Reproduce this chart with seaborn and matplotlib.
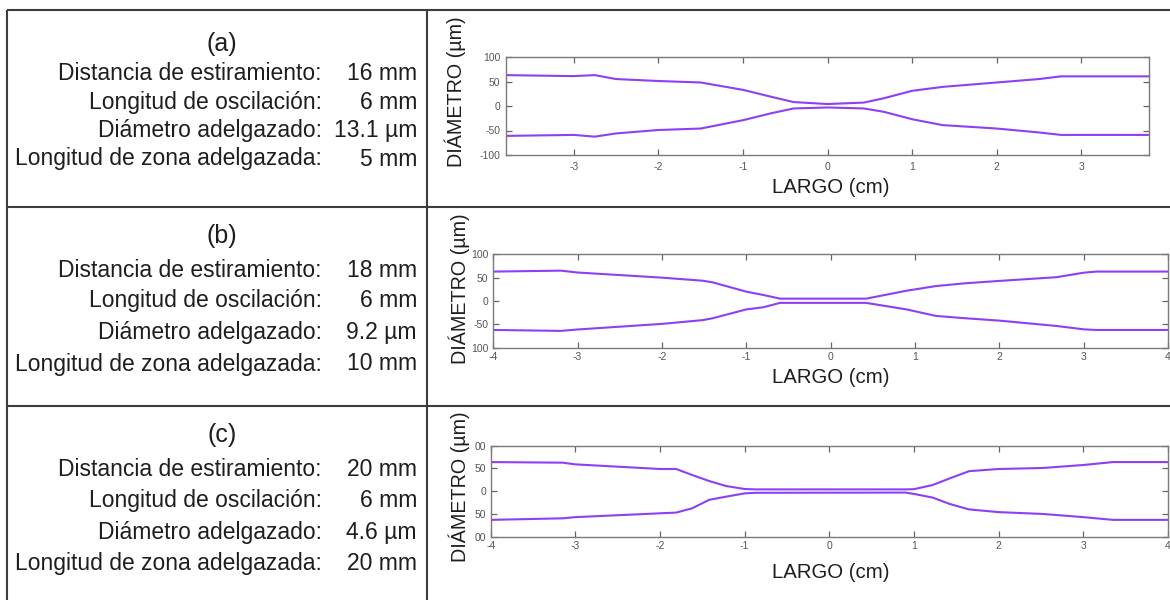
import numpy as np
import pandas as pd
import matplotlib
matplotlib.use("Agg")
import matplotlib.pyplot as plt
import seaborn as sns

# ---------------- data ----------------
panel_titles = ["(a)", "(b)", "(c)"]
param_names = ["Distancia de estiramiento:", "Longitud de oscilación:",
               "Diámetro adelgazado:", "Longitud de zona adelgazada:"]
values_a = ["16 mm", "6 mm", "13.1 µm", "5 mm"]
values_b = ["18 mm", "6 mm", "9.2 µm", "10 mm"]
values_c = ["20 mm", "6 mm", "4.6 µm", "20 mm"]

# profile (a)
x_a = [-3.8, -3.0, -2.75, -2.5, -2.0, -1.5, -1.0, -0.67, -0.4, 0.0, 0.43, 0.67,
       1.0, 1.36, 2.0, 2.5, 2.76, 3.8]
up_a = [63, 61, 63, 55, 51, 48, 33, 19, 8, 4, 7, 16, 31, 39, 48, 55, 60.5, 60.5]
low_a = [-61, -59, -62.5, -56, -49, -46, -29, -15, -5, -3, -5, -12, -27, -39,
         -46, -54, -59, -59]

# profile (b)
x_b = [-4, -3.2, -3, -2, -1.52, -1.4, -1, -0.8, -0.6, 0.42, 0.9, 1.25, 1.6, 2,
       2.68, 3, 3.15, 4]
up_b = [63, 65, 61, 50, 43.5, 40, 20, 13, 5, 5, 22, 32, 38, 43, 51, 60.6, 63, 63]
low_b = [-62, -64, -61, -49, -41, -37, -18, -13.5, -4, -4, -18, -32, -37, -42,
         -53.5, -60.7, -62, -62]

# profile (c)
x_c = [-4, -3.15, -3, -2, -1.81, -1.62, -1.42, -1.22, -1.0, -0.87, 0.9, 1.0,
       1.22, 1.42, 1.65, 2.0, 2.52, 3.0, 3.35, 4]
up_c = [64, 62.7, 59, 48.8, 48.8, 35.6, 22.4, 11.4, 4.8, 4, 4, 4.5, 13.6, 28,
        44, 48.8, 51, 57.6, 64, 64]
low_c = [-63, -59.6, -57, -48.6, -47, -37.6, -19, -12, -4.8, -3.5, -3, -6, -14,
         -28, -40, -46, -50, -57, -63, -63]

xticks_a = [-3, -2, -1, 0, 1, 2, 3]
xticks_bc = [-4, -3, -2, -1, 0, 1, 2, 3, 4]
yticks = [-100, -50, 0, 50, 100]
ylabels_a = ["-100", "-50", "0", "50", "100"]
ylabels_b = ["100", "-50", "0", "50", "100"]
ylabels_c = ["00", "50", "0", "50", "00"]

xlabel = "LARGO (cm)"
ylabel = "DIÁMETRO (µm)"

# ---------------- style ----------------
sns.set_style("white")
plt.rcParams["font.family"] = ["Liberation Sans", "DejaVu Sans"]

W, H = 1170, 600
fig = plt.figure(figsize=(W / 100, H / 100), dpi=100)
fig.patch.set_facecolor("white")

bg = fig.add_axes([0, 0, 1, 1])
bg.set_xlim(0, W)
bg.set_ylim(H, 0)
bg.axis("off")

tbl_col = "#3c3c3c"
tlw = 1.5
bg.plot([7, W], [9.5, 9.5], color=tbl_col, lw=tlw, solid_capstyle="butt")
bg.plot([7, W], [207.3, 207.3], color=tbl_col, lw=tlw, solid_capstyle="butt")
bg.plot([7, W], [405.7, 405.7], color=tbl_col, lw=tlw, solid_capstyle="butt")
bg.plot([7, 7], [9.5, H], color=tbl_col, lw=tlw, solid_capstyle="butt")
bg.plot([427, 427], [9.5, H], color=tbl_col, lw=tlw, solid_capstyle="butt")

txt_col = "#1e1e1e"
fs_txt = 16.5

rows = [
    dict(title_y=51, base=[80.5, 109, 136.7, 165.5], vals=values_a),
    dict(title_y=243, base=[277, 307.3, 339, 370.5], vals=values_b),
    dict(title_y=442, base=[476.5, 507, 538.5, 570], vals=values_c),
]
for title, r in zip(panel_titles, rows):
    bg.text(222, r["title_y"], title, ha="center", va="baseline",
            fontsize=18, color=txt_col)
    for name, val, yb in zip(param_names, r["vals"], r["base"]):
        bg.text(322, yb, name, ha="right", va="baseline", fontsize=fs_txt,
                color=txt_col)
        bg.text(417, yb, val, ha="right", va="baseline", fontsize=fs_txt,
                color=txt_col)


def px_rect(l, r, t, b):
    return [l / W, 1 - b / H, (r - l) / W, (b - t) / H]


line_col = "#8C3FF6"
panels = [
    dict(rect=px_rect(506, 1149, 57, 155), x=x_a, up=up_a, low=low_a,
         xlim=(-3.8, 3.8), xt=xticks_a, yl=ylabels_a, ylab=(-0.0793, 0.643),
         xlab=(0.5054, -0.332), ypad=4.0, xpad=4.8),
    dict(rect=px_rect(493.3, 1168, 254.3, 347.7), x=x_b, up=up_b, low=low_b,
         xlim=(-4, 4), xt=xticks_bc, yl=ylabels_b, ylab=(-0.0508, 0.628),
         xlab=(0.5005, -0.319), ypad=3.4, xpad=3.2),
    dict(rect=px_rect(490.7, 1168, 445.7, 536.7), x=x_c, up=up_c, low=low_c,
         xlim=(-4, 4), xt=xticks_bc, yl=ylabels_c, ylab=(-0.0468, 0.552),
         xlab=(0.5024, -0.393), ypad=3.4, xpad=3.2),
]

for p in panels:
    ax = fig.add_axes(p["rect"])
    df = pd.DataFrame({"x": p["x"], "up": p["up"], "low": p["low"]})
    sns.lineplot(data=df, x="x", y="up", ax=ax, color=line_col, lw=1.5,
                 sort=False, estimator=None)
    sns.lineplot(data=df, x="x", y="low", ax=ax, color=line_col, lw=1.5,
                 sort=False, estimator=None)
    ax.set_xlim(*p["xlim"])
    ax.set_ylim(-100, 100)
    ax.set_xticks(p["xt"])
    ax.set_xticklabels([str(t) for t in p["xt"]])
    ax.set_yticks(yticks)
    ax.set_yticklabels(p["yl"])
    ax.tick_params(axis="both", direction="in", length=4.5, width=0.9,
                   color="#666666", labelsize=7.5, labelcolor="#555555",
                   top=True, right=True, bottom=True, left=True)
    ax.tick_params(axis="y", pad=p["ypad"])
    ax.tick_params(axis="x", pad=p["xpad"])
    for s in ax.spines.values():
        s.set_visible(True)
        s.set_color("#7a7a7a")
        s.set_linewidth(1.0)
    ax.set_facecolor("white")
    ax.set_ylabel(ylabel, fontsize=14.2, color=txt_col)
    ax.yaxis.set_label_coords(*p["ylab"])
    ax.yaxis.label.set_va("center")
    ax.set_xlabel(xlabel, fontsize=14.7, color=txt_col)
    ax.xaxis.set_label_coords(*p["xlab"])
    ax.xaxis.label.set_va("center")

fig.savefig("out.png", dpi=100, facecolor="white")
